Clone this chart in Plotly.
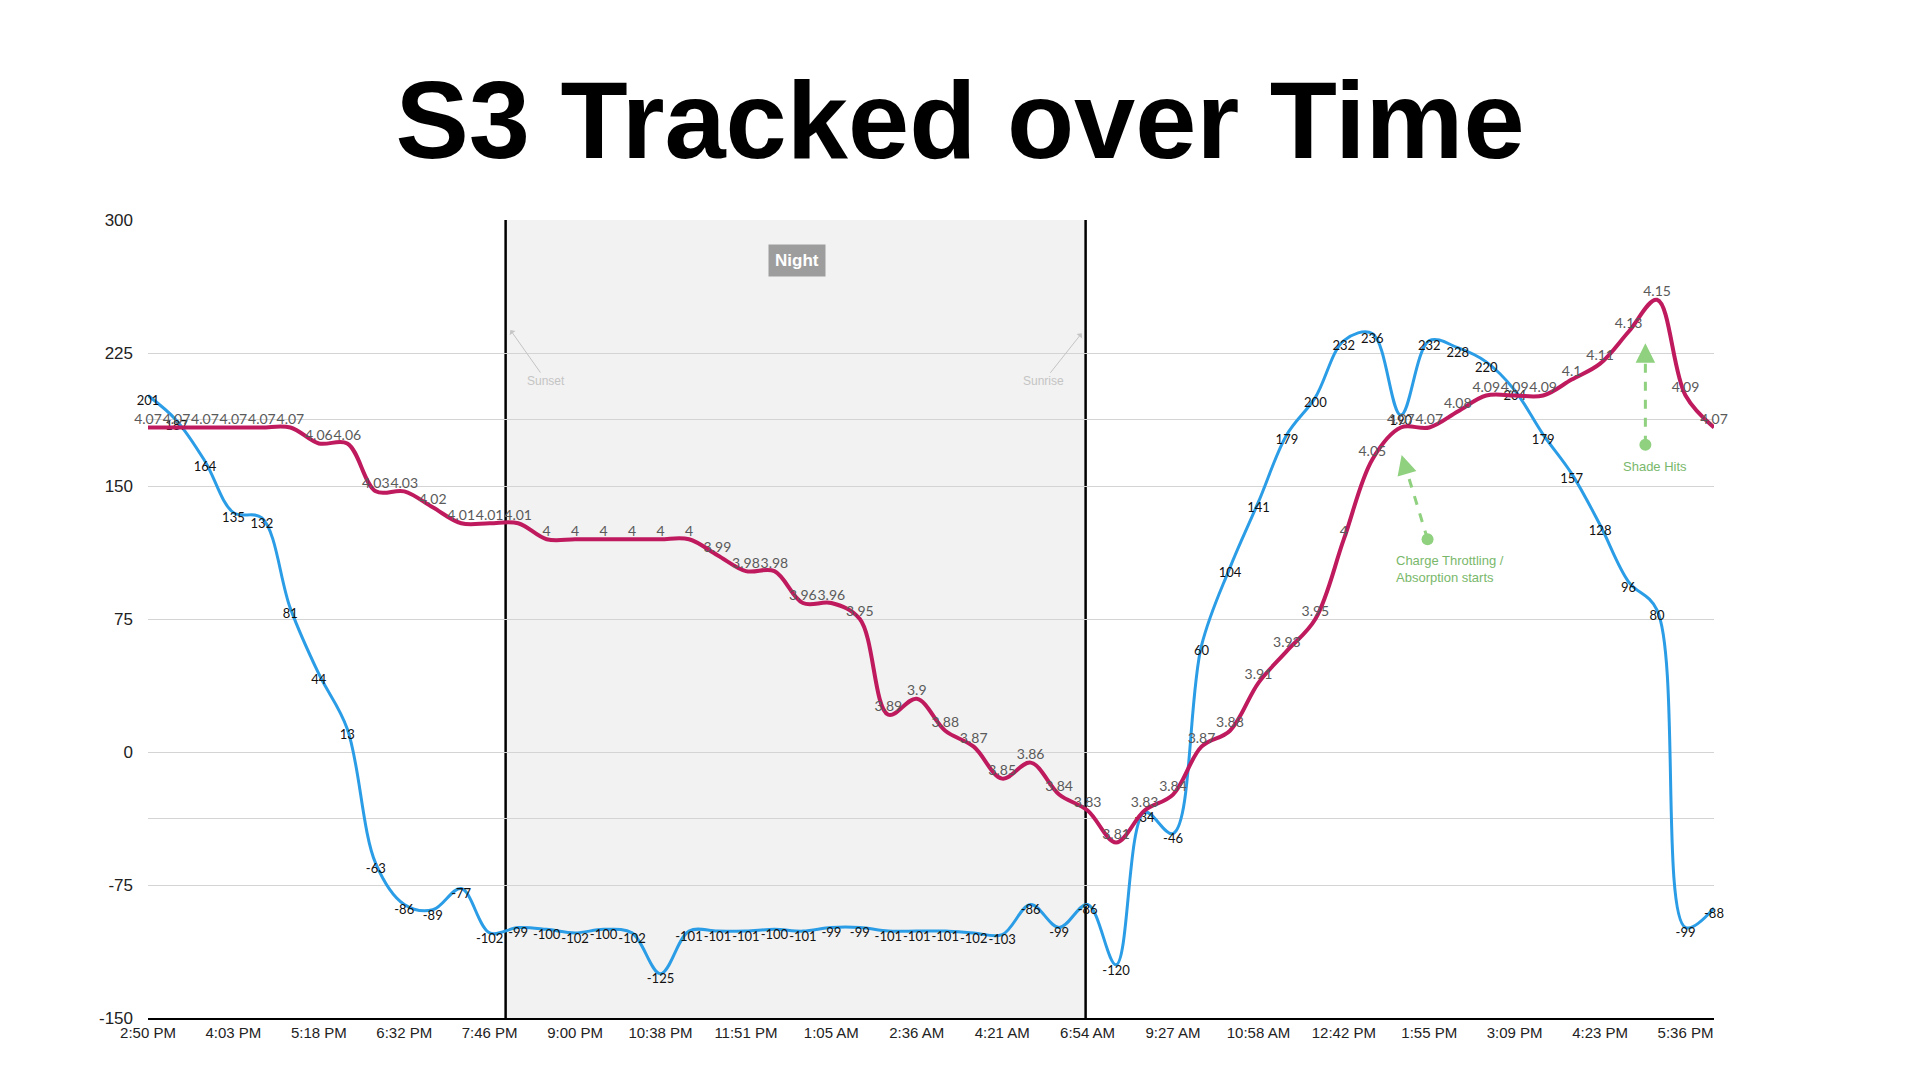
import plotly.graph_objects as go

# ---------------- data ----------------
tick_labels = ["2:50 PM", "4:03 PM", "5:18 PM", "6:32 PM", "7:46 PM", "9:00 PM",
               "10:38 PM", "11:51 PM", "1:05 AM", "2:36 AM", "4:21 AM", "6:54 AM",
               "9:27 AM", "10:58 AM", "12:42 PM", "1:55 PM", "3:09 PM", "4:23 PM",
               "5:36 PM"]

power = [201, 187, 164, 135, 132, 81, 44, 13, -63, -86, -89, -77, -102, -99,
         -100, -102, -100, -102, -125, -101, -101, -101, -100, -101, -99, -99,
         -101, -101, -101, -102, -103, -86, -99, -86, -120, -34, -46, 60, 104,
         141, 179, 200, 232, 236, 190, 232, 228, 220, 204, 179, 157, 128, 96,
         80, -99, -88]

voltage = [4.07, 4.07, 4.07, 4.07, 4.07, 4.07, 4.06, 4.06, 4.03, 4.03, 4.02,
           4.01, 4.01, 4.01, 4.0, 4.0, 4.0, 4.0, 4.0, 4.0, 3.99, 3.98, 3.98,
           3.96, 3.96, 3.95, 3.89, 3.9, 3.88, 3.87, 3.85, 3.86, 3.84, 3.83,
           3.81, 3.83, 3.84, 3.87, 3.88, 3.91, 3.93, 3.95, 4.0, 4.05, 4.07,
           4.07, 4.08, 4.09, 4.09, 4.09, 4.1, 4.11, 4.13, 4.15, 4.09, 4.07]

y_ticks = [-150, -75, 0, 75, 150, 225, 300]

sunset_pos = 12.56
sunrise_pos = 32.93

# ---------------- figure ----------------
x = list(range(len(power)))
tick_step = 3
tickvals = x[::tick_step]

fig = go.Figure()

fig.add_trace(go.Scatter(
    x=x, y=power, mode="lines+text",
    text=[f"{v:g}" for v in power],
    textposition="bottom center",
    textfont=dict(family="Lato", size=13, color="#111111"),
    line=dict(color="#2b9de6", width=3, shape="spline", smoothing=1.0),
    cliponaxis=False, hoverinfo="skip", showlegend=False, yaxis="y",
))

fig.add_trace(go.Scatter(
    x=x, y=voltage, mode="lines+text",
    text=[f"{v:g}" for v in voltage],
    textposition="top center",
    textfont=dict(family="Lato", size=14, color="#5a5a5a"),
    line=dict(color="#bf1a5e", width=4, shape="spline", smoothing=1.0),
    cliponaxis=False, hoverinfo="skip", showlegend=False, yaxis="y2",
))

green = "#8fd17f"
green_text = "#79b86b"
grid = "#d4d4d4"

shapes = [
    dict(type="rect", xref="x", yref="paper", x0=sunset_pos, x1=sunrise_pos,
         y0=0, y1=1, fillcolor="#f2f2f2", line=dict(width=0), layer="below"),
    dict(type="line", xref="x", yref="paper", x0=sunset_pos, x1=sunset_pos,
         y0=0, y1=1, line=dict(color="black", width=2.5), layer="between"),
    dict(type="line", xref="x", yref="paper", x0=sunrise_pos, x1=sunrise_pos,
         y0=0, y1=1, line=dict(color="black", width=2.5), layer="between"),
    # dashed green arrow shafts
    dict(type="line", xref="x", yref="y", x0=44.94, y0=120.0, x1=44.19, y1=159.4,
         line=dict(color=green, width=3, dash="dash"), layer="above"),
    dict(type="line", xref="x", yref="y", x0=52.59, y0=173.2, x1=52.59, y1=222.6,
         line=dict(color=green, width=3, dash="dash"), layer="above"),
    # dots at arrow tails
    dict(type="circle", xref="x", yref="y", xsizemode="pixel", ysizemode="pixel",
         xanchor=44.94, yanchor=120.0, x0=-6, x1=6, y0=-6, y1=6,
         fillcolor=green, line=dict(width=0), layer="above"),
    dict(type="circle", xref="x", yref="y", xsizemode="pixel", ysizemode="pixel",
         xanchor=52.59, yanchor=173.2, x0=-6, x1=6, y0=-6, y1=6,
         fillcolor=green, line=dict(width=0), layer="above"),
]

annotations = [
    dict(text="<b>Night</b>", x=22.79, y=277.4, xref="x", yref="y",
         showarrow=False, bgcolor="#9d9d9d", borderpad=6,
         font=dict(family="Liberation Sans", size=17, color="white")),
    dict(text="Sunset", x=12.73, y=237.9, xref="x", yref="y",
         ax=36, ay=51, showarrow=True, arrowhead=1, arrowsize=1.2,
         arrowwidth=1, arrowcolor="#c4c4c4",
         font=dict(family="Liberation Sans", size=12, color="#c4c4c4")),
    dict(text="Sunrise", x=32.79, y=236.1, xref="x", yref="y",
         ax=-38, ay=48, showarrow=True, arrowhead=1, arrowsize=1.2,
         arrowwidth=1, arrowcolor="#c4c4c4",
         font=dict(family="Liberation Sans", size=12, color="#c4c4c4")),
    # green arrow heads
    dict(text="", x=44.03, y=167.5, xref="x", yref="y", ax=4, ay=14,
         showarrow=True, arrowhead=2, arrowsize=1.3, arrowwidth=3,
         arrowcolor=green, standoff=0),
    dict(text="", x=52.59, y=230.5, xref="x", yref="y", ax=0, ay=14,
         showarrow=True, arrowhead=2, arrowsize=1.3, arrowwidth=3,
         arrowcolor=green, standoff=0),
    dict(text="Charge Throttling /<br>Absorption starts", x=43.75, y=103.4,
         xref="x", yref="y", xanchor="left", yanchor="middle", align="left",
         showarrow=False,
         font=dict(family="Liberation Sans", size=13, color=green_text)),
    dict(text="Shade Hits", x=52.93, y=161.0, xref="x", yref="y",
         showarrow=False,
         font=dict(family="Liberation Sans", size=13, color=green_text)),
]

fig.update_layout(
    width=1920, height=1080,
    margin=dict(l=148, r=206, t=220, b=62),
    paper_bgcolor="white", plot_bgcolor="white",
    title=dict(text="S3 Tracked over Time", x=0.5, xref="container",
               xanchor="center", y=1 - 119 / 1080, yref="container",
               yanchor="middle",
               font=dict(family="Liberation Sans", size=110, color="black",
                         weight=700)),
    xaxis=dict(range=[0, len(power) - 1], tickvals=tickvals,
               ticktext=tick_labels, showgrid=False, zeroline=False,
               showline=True, linecolor="black", linewidth=2, ticks="",
               tickfont=dict(family="Liberation Sans", size=15, color="#222222")),
    yaxis=dict(range=[-150, 300], tickvals=y_ticks,
               ticktext=[str(v) for v in y_ticks], showgrid=True,
               gridcolor=grid, gridwidth=1, zeroline=False, showline=False,
               ticks="", ticklabelstandoff=14,
               tickfont=dict(family="Liberation Sans", size=17, color="#222222")),
    yaxis2=dict(range=[3.7, 4.2], tick0=3.7, dtick=0.125, overlaying="y",
                side="right", showticklabels=False, showgrid=True,
                gridcolor=grid, gridwidth=1, zeroline=False, showline=False,
                ticks=""),
    shapes=shapes,
    annotations=annotations,
    showlegend=False,
    hovermode=False,
)

fig.write_html("out.html")
